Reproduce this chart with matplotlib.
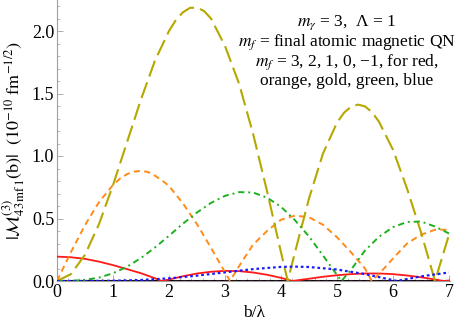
import matplotlib
matplotlib.use("Agg")
import matplotlib.pyplot as plt
from matplotlib.ticker import MultipleLocator

plt.rcParams['font.family'] = ['Liberation Serif', 'DejaVu Serif']
plt.rcParams['mathtext.fontset'] = 'stix'

# red (m_f = 3)
red_x = [0, 0.25, 0.5, 0.75, 1.0, 1.25, 1.5, 1.75, 1.87, 2.0, 2.25, 2.5, 2.75, 3.0, 3.25, 3.5, 3.75,
         4.0, 4.2, 4.5, 4.75, 5.0, 5.25, 5.5, 5.75, 6.0, 6.25, 6.5, 6.75, 6.9, 7.0]
red_y = [0.195, 0.19, 0.177, 0.155, 0.127, 0.095, 0.062, 0.022, 0.0, 0.012, 0.038, 0.06, 0.074, 0.081,
         0.079, 0.068, 0.05, 0.025, 0.0, 0.018, 0.034, 0.046, 0.055, 0.06, 0.06, 0.055, 0.044, 0.03,
         0.012, 0.0, 0.004]

# orange (m_f = 2)
orange_x = [0, 0.25, 0.5, 0.75, 1.0, 1.125, 1.25, 1.375, 1.5, 1.625, 1.75, 1.875, 2.0, 2.25, 2.5,
            2.75, 3.0, 3.09, 3.25, 3.5, 3.75, 4.0, 4.25, 4.5, 4.75, 5.0, 5.25, 5.5, 5.62, 5.75, 6.0,
            6.25, 6.5, 6.75, 7.0]
orange_y = [0.0, 0.232, 0.447, 0.631, 0.768, 0.819, 0.855, 0.875, 0.881, 0.872, 0.842, 0.805, 0.76,
            0.62, 0.455, 0.265, 0.07, 0.0, 0.118, 0.29, 0.40, 0.49, 0.523, 0.51, 0.45, 0.35, 0.23,
            0.10, 0.0, 0.056, 0.18, 0.30, 0.37, 0.41, 0.41]

# gold (m_f = 1)
gold_x = [0, 0.25, 0.5, 0.75, 1.0, 1.25, 1.5, 1.75, 2.0, 2.125, 2.25, 2.375, 2.5, 2.625, 2.75, 3.0,
          3.25, 3.5, 3.75, 4.0, 4.12, 4.25, 4.5, 4.75, 5.0, 5.125, 5.25, 5.375, 5.5, 5.625, 5.75,
          6.0, 6.25, 6.5, 6.75, 7.0]
gold_y = [0.0, 0.055, 0.21, 0.455, 0.767, 1.11, 1.453, 1.764, 2.0, 2.09, 2.15, 2.185, 2.187, 2.16,
          2.10, 1.88, 1.58, 1.18, 0.72, 0.23, 0.0, 0.23, 0.66, 1.02, 1.267, 1.346, 1.394, 1.411,
          1.397, 1.351, 1.274, 1.05, 0.74, 0.39, 0.0, 0.37]

# green (m_f = 0)
green_x = [0, 0.25, 0.5, 0.75, 1.0, 1.25, 1.5, 1.75, 2.0, 2.25, 2.5, 2.75, 3.0, 3.25, 3.5, 3.75, 4.0,
           4.25, 4.5, 4.75, 5.0, 5.08, 5.25, 5.5, 5.75, 6.0, 6.25, 6.5, 6.75, 7.0]
green_y = [0.0, 0.001, 0.009, 0.027, 0.062, 0.114, 0.184, 0.268, 0.362, 0.459, 0.548, 0.625, 0.681,
           0.711, 0.708, 0.667, 0.594, 0.486, 0.356, 0.204, 0.048, 0.0, 0.09, 0.244, 0.354, 0.431,
           0.472, 0.476, 0.436, 0.38]

# blue (m_f = -1)
blue_x = [0, 0.5, 1.0, 1.5, 2.0, 2.5, 3.0, 3.5, 4.0, 4.25, 4.5, 5.0, 5.5, 6.0, 6.07, 6.5, 7.0]
blue_y = [0.0, 0.0, 0.002, 0.008, 0.021, 0.043, 0.069, 0.095, 0.113, 0.115, 0.112, 0.092, 0.055,
          0.007, 0.0, 0.037, 0.068]

zero_x = [0, 7]
zero_y = [0, 0]

fig = plt.figure(figsize=(4.58, 3.26), dpi=100)
ax = fig.add_axes([57/458, 45/326, (449-57)/458 * 7.02/7, 281/326])

ax.plot(zero_x, zero_y, color='black', lw=2.2, solid_capstyle='butt', zorder=2)
ax.plot(zero_x, zero_y, color='#b030b0', lw=1.0, dashes=(3, 3), zorder=2.1)
ax.plot(red_x, red_y, color='#ff1a1a', lw=1.3, zorder=3)
ax.plot(orange_x, orange_y, color='#ff8c1a', lw=1.4, dashes=(3.2, 2.2), zorder=3)
ax.plot(gold_x, gold_y, color='#b5a800', lw=1.5, dashes=(8, 3), zorder=3)
ax.plot(green_x, green_y, color='#1fb01f', lw=1.4, dashes=(3.2, 2, 1, 2), zorder=3)
ax.plot(blue_x, blue_y, color='#1a1aff', lw=1.6, dashes=(1.2, 1.3), zorder=3)

ax.set_xlim(0, 7.02)
ax.set_ylim(0, 281/125)
ax.xaxis.set_major_locator(MultipleLocator(1))
ax.xaxis.set_minor_locator(MultipleLocator(0.2))
ax.yaxis.set_major_locator(MultipleLocator(0.5))
ax.yaxis.set_minor_locator(MultipleLocator(0.1))
ax.yaxis.set_major_formatter(plt.FuncFormatter(lambda v, p: f"{v:.1f}"))
ax.xaxis.set_major_formatter(plt.FuncFormatter(lambda v, p: f"{int(round(v))}"))

for s in ['top', 'right']:
    ax.spines[s].set_visible(False)
for s in ['left', 'bottom']:
    ax.spines[s].set_color('#a0a0a0')
    ax.spines[s].set_linewidth(0.8)
ax.tick_params(which='both', direction='in', color='#a0a0a0', labelsize=13, pad=2)
ax.tick_params(which='major', length=4, width=0.6)
ax.tick_params(which='minor', length=2, width=0.5)

ax.set_xlabel(r"b/λ", fontsize=12.5, labelpad=3)
ax.set_ylabel(r"$|\mathcal{M}^{(3)}_{43\,\mathrm{mf}\,1}(\mathrm{b})|$  $(10^{-10}\ \mathrm{fm}^{-1/2})$",
              fontsize=13, labelpad=3)

txt = ("$m_\\gamma$ = 3,  Λ = 1\n"
       "$m_f$ = final atomic magnetic QN\n"
       "$m_f$ = 3, 2, 1, 0, −1, for red,\n"
       "orange, gold, green, blue")
fig.text(347/458, 1 - 13/326, txt, ha='center', va='top', fontsize=12.5, linespacing=1.06)

fig.savefig("out.png", dpi=100)
